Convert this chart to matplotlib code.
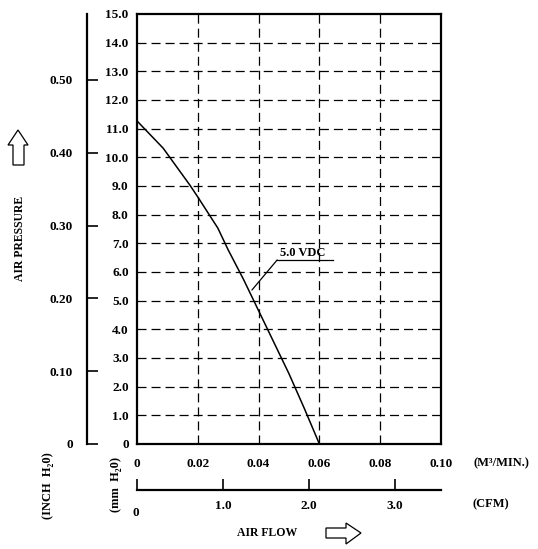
import matplotlib
matplotlib.use("Agg")
import matplotlib.pyplot as plt
from matplotlib.patches import Polygon
from matplotlib.transforms import Affine2D

plt.rcParams['font.family'] = ['Liberation Serif', 'DejaVu Serif']
plt.rcParams['font.weight'] = 'bold'
plt.rcParams['lines.scale_dashes'] = False

# ---- data ----
flow_m3min = [0.0, 0.0086, 0.0174, 0.0201, 0.0266, 0.030, 0.035, 0.040, 0.045, 0.050, 0.055, 0.060]
pressure_mm = [11.27, 10.32, 9.03, 8.6, 7.53, 6.77, 5.75, 4.65, 3.55, 2.45, 1.25, 0.0]
curve_label = "5.0 VDC"

x_ticks = [0, 0.02, 0.04, 0.06, 0.08, 0.10]
x_ticklabels = ["0", "0.02", "0.04", "0.06", "0.08", "0.10"]
y_ticks = list(range(0, 16))
y_ticklabels = ["0"] + [f"{v:.1f}" for v in range(1, 16)]
inch_ticks = [0, 0.10, 0.20, 0.30, 0.40, 0.50]
inch_ticklabels = ["0", "0.10", "0.20", "0.30", "0.40", "0.50"]
cfm_ticks = [0, 1.0, 2.0, 3.0]
cfm_ticklabels = ["", "1.0", "2.0", "3.0"]

MM_PER_INCH = 25.4
M3MIN_PER_CFM = 0.0283168

W, H = 538, 549
fig = plt.figure(figsize=(W / 100, H / 100), dpi=100)
px = Affine2D().scale(1 / W, -1 / H).translate(0, 1) + fig.transFigure

L, R, T, B = 137, 441, 14, 444
ax = fig.add_axes([L / W, 1 - B / H, (R - L) / W, (B - T) / H])
ax.set_xlim(0, 0.10)
ax.set_ylim(0, 15)

# grid
for x in x_ticks[1:-1]:
    ax.axvline(x, color='black', lw=0.9, dashes=(6.5, 3.6), zorder=1)
for y in y_ticks[1:-1]:
    ax.axhline(y, color='black', lw=0.9, dashes=(6.5, 3.6), zorder=1)

ax.plot(flow_m3min, pressure_mm, color='black', lw=1.1, zorder=3)

for s in ax.spines.values():
    s.set_linewidth(1.6)

fs = 9.5
ax.set_xticks(x_ticks)
ax.set_xticklabels(x_ticklabels, fontsize=fs, fontweight='bold')
ax.set_yticks(y_ticks)
ax.set_yticklabels(y_ticklabels, fontsize=fs, fontweight='bold')
ax.tick_params(axis='both', length=0)
ax.tick_params(axis='x', pad=10)
ax.tick_params(axis='y', pad=6)

# annotation
ax.annotate("", xy=(0.0378, 5.37), xytext=(0.0461, 6.42),
            arrowprops=dict(arrowstyle='-', color='black', lw=0.9,
                            shrinkA=0, shrinkB=0))
ax.plot([0.0461, 0.0645], [6.42, 6.42], color='black', lw=0.9, clip_on=False)
ax.text(0.0470, 6.47, curve_label, fontsize=9, fontweight='bold', ha='left', va='bottom')

# inch axis
inch = ax.secondary_yaxis((87 - L) / (R - L),
                          functions=(lambda v: v / MM_PER_INCH, lambda v: v * MM_PER_INCH))
inch.set_yticks(inch_ticks)
inch.set_yticklabels(inch_ticklabels, fontsize=fs, fontweight='bold')
inch.tick_params(axis='y', direction='in', length=8, width=1.2, pad=10)
inch.spines['left'].set_linewidth(1.6)

# CFM axis
cfm = ax.secondary_xaxis(-(490 - B) / (B - T),
                         functions=(lambda v: v / M3MIN_PER_CFM, lambda v: v * M3MIN_PER_CFM))
cfm.set_xticks(cfm_ticks)
cfm.set_xticklabels(cfm_ticklabels, fontsize=fs, fontweight='bold')
cfm.tick_params(axis='x', direction='in', length=8, width=1.2, pad=7)
cfm.spines['bottom'].set_linewidth(1.6)

# figure texts
def ftext(x, y, s, size=fs, **kw):
    fig.text(x, y, s, transform=px, fontsize=size, fontweight='bold', **kw)

ftext(136, 513, "0", ha='center', va='center')
ftext(501, 463, "(M³/MIN.)", ha='center', va='center', size=9)
ftext(491, 504, "(CFM)", ha='center', va='center', size=9)
ftext(267, 533, "AIR FLOW", ha='center', va='center', size=8.5)
ftext(20, 238, "AIR PRESSURE", ha='center', va='center', rotation=90, size=8.5)
ftext(48, 486, "(INCH  H₂0)", ha='center', va='center', rotation=90, size=9)
ftext(116, 485, "(mm  H₂0)", ha='center', va='center', rotation=90, size=9)

# hollow arrows
up = [(18, 130), (28, 145), (24, 145), (24, 165), (13, 165), (13, 145), (8, 145)]
fig.patches.append(Polygon(up, closed=True, fill=False, edgecolor='black', lw=0.9, transform=px))
right = [(326, 528), (346, 528), (346, 523), (361, 533), (346, 544), (346, 538), (326, 538)]
fig.patches.append(Polygon(right, closed=True, fill=False, edgecolor='black', lw=0.9, transform=px))

fig.savefig("out.png", dpi=100, facecolor='white')
